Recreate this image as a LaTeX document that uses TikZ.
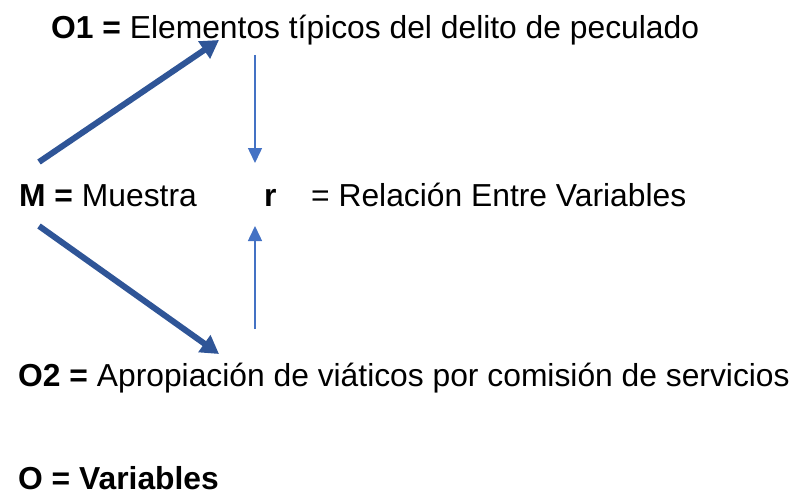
\documentclass[tikz,border=0pt]{standalone}
\usepackage{fontspec}
\setmainfont{Liberation Sans}
\usetikzlibrary{arrows.meta}
\definecolor{thickblue}{HTML}{2F5597}
\definecolor{thinblue}{HTML}{4472C4}
\tikzset{
  lbl/.style={anchor=base west, inner sep=0pt, font=\fontsize{31.8}{36}\selectfont},
  thickarrow/.style={draw=thickblue, line width=6pt, -{Triangle[length=18pt,width=20pt]}},
  thinarrow/.style={draw=thinblue, line width=1.5pt, -{Triangle[length=15pt,width=14pt]}}
}
\begin{document}
\begin{tikzpicture}[x=1pt,y=-1pt]
\useasboundingbox (0,0) rectangle (795,495);
\node[lbl] (o1) at (51,39) {\textbf{O1 =} Elementos típicos del delito de peculado};
\node[lbl] (m) at (19,206) {\textbf{M =} Muestra};
\node[lbl] (r) at (264,206) {\textbf{r}};
\node[lbl] (rel) at (311,206) {= Relación Entre Variables};
\node[lbl] (o2) at (18,386) {\textbf{O2 =} Apropiación de viáticos por comisión de servicios};
\node[lbl, text depth=0pt] (o) at (18,489) {\textbf{O = Variables}};
\coordinate (a1s) at (39,162);
\coordinate (a1e) at (219,40);
\coordinate (a2s) at (39,226);
\coordinate (a2e) at (219,354);
\coordinate (dns) at (255,55);
\coordinate (dne) at (255,163);
\coordinate (ups) at (255,329);
\coordinate (upe) at (255,226);
\draw[thickarrow] (a1s) -- (a1e);
\draw[thickarrow] (a2s) -- (a2e);
\draw[thinarrow] (dns) -- (dne);
\draw[thinarrow] (ups) -- (upe);
\end{tikzpicture}
\end{document}
